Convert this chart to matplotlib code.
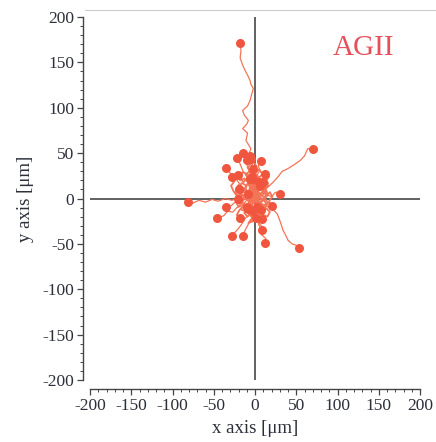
import numpy as np
import matplotlib.pyplot as plt
from matplotlib.ticker import MultipleLocator
from matplotlib.lines import Line2D

plt.rcParams['font.family'] = ['Liberation Serif', 'DejaVu Serif']
plt.rcParams['axes.unicode_minus'] = False

# cell tracks in µm, every track starts at the origin, last point = end position
track_01 = [(0, 0), (-3, 6), (2, 12), (-4, 18), (-1, 25), (-6, 31), (-3, 38), (-8, 47),
            (-5, 55), (-11, 64), (-9, 72), (-15, 77), (-10, 82), (-8, 86), (-13, 92),
            (-15, 97), (-9, 102), (-6, 108), (-4, 115), (-2, 121), (-5, 126), (-6, 130),
            (-9, 136), (-12, 141), (-15, 147), (-18, 155), (-17, 163), (-18, 171)]
track_02 = [(0, 0), (5, 3), (9, 8), (15, 12), (22, 18), (28, 24), (33, 30), (40, 33),
            (47, 37), (55, 42), (60, 47), (64, 55), (70, 54)]
track_03 = [(0, 0), (-6, 2), (-12, -1), (-20, 1), (-28, -2), (-36, 0), (-45, -3),
            (-52, -1), (-60, -4), (-68, -2), (-75, -5), (-81, -4)]
track_04 = [(0, 0), (-4, -3), (-9, 1), (-14, -2), (-18, -6), (-24, -4), (-29, -8), (-35, -9)]
track_05 = [(0, 0), (-5, -4), (-10, -2), (-16, -8), (-22, -10), (-27, -15), (-33, -14),
            (-38, -19), (-46, -22)]
track_06 = [(0, 0), (-3, -6), (-8, -10), (-6, -17), (-12, -22), (-16, -28), (-20, -33),
            (-24, -37), (-28, -41)]
track_07 = [(0, 0), (2, -7), (-3, -12), (-1, -19), (-6, -24), (-9, -30), (-12, -35), (-15, -41)]
track_08 = [(0, 0), (4, -6), (2, -14), (7, -20), (5, -27), (10, -33), (8, -40), (13, -44), (12, -49)]
track_09 = [(0, 0), (6, -4), (12, -8), (18, -10), (24, -14), (27, -17), (30, -24), (34, -35),
            (38, -42), (40, -46), (45, -50), (51, -52), (53, -54)]
track_10 = [(0, 0), (-2, -5), (3, -10), (1, -16), (6, -22), (4, -28), (8, -35)]
track_11 = [(0, 0), (3, -4), (1, -8), (5, -10), (7, -13)]
track_12 = [(0, 0), (5, 2), (10, -1), (15, 4), (20, 2), (25, 7), (30, 5)]
track_13 = [(0, 0), (-4, 5), (-8, 3), (-12, 9), (-17, 14), (-21, 19), (-25, 24), (-30, 28), (-35, 34)]
track_14 = [(0, 0), (3, 6), (-1, 12), (4, 18), (2, 25), (6, 31), (4, 36), (7, 41)]
track_15 = [(0, 0), (-4, 7), (-2, 14), (-8, 19), (-11, 26), (-15, 31), (-18, 38), (-22, 45)]
track_16 = [(0, 0), (2, 8), (-3, 14), (-1, 21), (-6, 28), (-9, 35), (-12, 42), (-15, 50)]
track_17 = [(0, 0), (-3, 8), (1, 15), (-2, 23), (-5, 30), (-3, 38), (-6, 47)]
# tracks that stay close to the start point
track_18 = [(0, 0), (-5, 3), (-9, -2), (-13, 4), (-18, 2), (-15, 9), (-20, 12), (-16, 17),
            (-10, 14), (-14, 7), (-8, 5)]
track_19 = [(0, 0), (4, 5), (9, 3), (13, 9), (8, 14), (3, 11), (-2, 16), (4, 21), (10, 18)]
track_20 = [(0, 0), (-3, -5), (-8, -8), (-12, -14), (-17, -12), (-13, -6), (-18, -3),
            (-12, 2), (-7, -3), (-10, -9)]
track_21 = [(0, 0), (5, -3), (9, -8), (14, -6), (10, -1), (15, 3), (11, 8), (6, 4), (2, 9), (6, 14)]
track_22 = [(0, 0), (-2, 6), (-7, 10), (-4, 17), (-10, 22), (-14, 18), (-19, 24), (-15, 29),
            (-9, 27), (-6, 21)]
track_23 = [(0, 0), (3, -2), (7, 4), (11, 1), (15, 6), (12, 12), (16, 17), (10, 22), (5, 18)]
track_24 = [(0, 0), (-6, -2), (-4, -8), (-10, -11), (-7, -17), (-3, -22), (-8, -27), (-2, -25),
            (2, -19), (-3, -14)]
track_25 = [(0, 0), (2, 4), (-4, 6), (-2, 12), (-8, 15), (-5, 20), (-11, 26), (-6, 31),
            (-1, 27), (-4, 24)]
track_26 = [(0, 0), (4, 2), (8, -2), (6, -8), (12, -10), (16, -5), (12, 0), (7, -4), (3, -9)]
track_27 = [(0, 0), (-3, 3), (-7, -1), (-11, 2), (-9, 8), (-14, 11), (-20, 15), (-22, 9),
            (-17, 5), (-21, 0)]
track_28 = [(0, 0), (1, -4), (-4, -6), (-2, -11), (3, -14), (0, -19), (-5, -16), (-9, -20),
            (-13, -16), (-9, -12)]
track_29 = [(0, 0), (5, 6), (2, 11), (7, 15), (4, 22), (9, 27), (5, 32), (0, 28), (-3, 33)]
track_30 = [(0, 0), (-2, -3), (-6, 2), (-3, 7), (2, 10), (-1, 15), (-5, 12), (-8, 18), (-3, 21)]
track_31 = [(0, 0), (-4, -2), (-7, 4), (-13, 1), (-16, -5), (-20, -9), (-23, -4), (-19, 2),
            (-24, 6), (-20, 11)]
track_32 = [(0, 0), (3, 3), (1, 8), (-4, 10), (-9, 7), (-12, 12), (-8, 18), (-13, 22),
            (-18, 20), (-21, 26)]
track_33 = [(0, 0), (2, -3), (7, -5), (5, -11), (10, -14), (14, -11), (18, -15), (15, -20),
            (10, -18), (8, -23)]
track_34 = [(0, 0), (-1, 5), (4, 8), (8, 13), (12, 10), (16, 14), (13, 19), (17, 24), (12, 27)]
track_35 = [(0, 0), (-5, -1), (-8, -6), (-5, -11), (-11, -13), (-15, -9), (-19, -13),
            (-22, -18), (-18, -22)]
track_36 = [(0, 0), (2, 5), (-3, 9), (-7, 14), (-3, 19), (-8, 24), (-4, 29), (-9, 34),
            (-5, 38), (-10, 42)]
track_37 = [(0, 0), (-3, 2), (-1, -4), (4, -2), (7, -7), (3, -12), (-2, -9), (-6, -12),
            (-4, -18), (1, -22)]
track_38 = [(0, 0), (4, -1), (6, 5), (10, 8), (14, 3), (18, 7), (21, 2), (17, -3), (20, -8)]
track_39 = [(0, 0), (-4, 4), (-9, 6), (-12, 0), (-16, 5), (-22, 3), (-26, 8), (-29, 14),
            (-25, 19), (-28, 24)]
track_40 = [(0, 0), (1, 6), (-2, 11), (3, 14), (7, 20), (3, 25), (-2, 30), (2, 35), (-1, 40),
            (-5, 44)]

tracks = [track_01, track_02, track_03, track_04, track_05, track_06, track_07, track_08,
          track_09, track_10, track_11, track_12, track_13, track_14, track_15, track_16,
          track_17, track_18, track_19, track_20, track_21, track_22, track_23, track_24,
          track_25, track_26, track_27, track_28, track_29, track_30, track_31, track_32,
          track_33, track_34, track_35, track_36, track_37, track_38, track_39, track_40]

condition = "AGII"
line_color = "#f37457"
dot_color = "#f0563e"
text_color = "#2c2f3a"

fig = plt.figure(figsize=(4.36, 4.42), dpi=100)
ax = fig.add_axes([90 / 436, 1 - 380 / 442, 330 / 436, 363 / 442])

ax.axhline(0, color="#555555", lw=1.3, zorder=1)
ax.axvline(0, color="#555555", lw=1.3, zorder=1)

for i, tr in enumerate(tracks):
    pts = np.array(tr, dtype=float)
    # the long outer tracks are drawn a bit thinner than the crowded ones at the centre
    lw = 0.9 if i < 17 else 1.3
    ax.plot(pts[:, 0], pts[:, 1], color=line_color, lw=lw, zorder=2)
    ax.plot(pts[-1, 0], pts[-1, 1], "o", color=dot_color, ms=6.5, mec="none", zorder=3)

ax.set_xlim(-200, 200)
ax.set_ylim(-200, 200)

for side in ["top", "right"]:
    ax.spines[side].set_visible(False)
ax.spines["left"].set_position(("outward", 5))
ax.spines["bottom"].set_position(("outward", 6.5))
for side in ["left", "bottom"]:
    ax.spines[side].set_color("#444444")
    ax.spines[side].set_linewidth(1.0)

ax.xaxis.set_major_locator(MultipleLocator(50))
ax.xaxis.set_minor_locator(MultipleLocator(10))
ax.yaxis.set_major_locator(MultipleLocator(50))
ax.yaxis.set_minor_locator(MultipleLocator(10))
ax.tick_params(which="major", direction="out", length=4.5, width=0.9, color="#444444",
               labelsize=12.5, labelcolor=text_color, pad=2)
ax.tick_params(which="minor", direction="out", length=2.5, width=0.7, color="#444444")

ax.set_xlabel("x axis [μm]", fontsize=13.5, color=text_color, labelpad=4)
ax.set_ylabel("y axis [μm]", fontsize=13.5, color=text_color, labelpad=6)

ax.text(0.83, 0.915, condition, transform=ax.transAxes, ha="center", va="center",
        fontsize=21, color="#e5505c")

# faint frame line above the plot
fig.add_artist(Line2D([85 / 436, 1.0], [1 - 10 / 442, 1 - 10 / 442],
                      color="#cccccc", lw=0.8, transform=fig.transFigure))

fig.savefig("out.png", dpi=100)
